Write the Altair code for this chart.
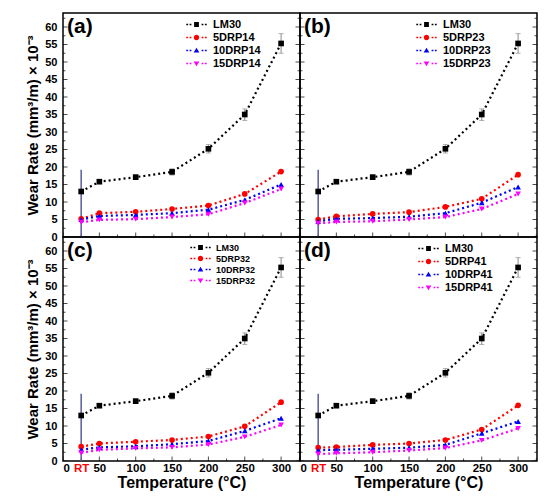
import altair as alt
import pandas as pd

# ---------------- data ----------------
temps = [25, 50, 100, 150, 200, 250, 300]          # RT plotted at 25
x_tick_values = [0, 25, 50, 100, 150, 200, 250, 300]
y_tick_values = [0, 5, 10, 15, 20, 25, 30, 35, 40, 45, 50, 55, 60]
x_major = [0, 50, 100, 150, 200, 250, 300]
x_minor = [25, 75, 125, 175, 225, 275, 325]
y_minor = [2.5, 7.5, 12.5, 17.5, 22.5, 27.5, 32.5, 37.5, 42.5, 47.5, 52.5, 57.5, 62.5]

lm30 = [13.0, 15.8, 17.1, 18.6, 25.2, 35.0, 55.3]
lm30_lo = [0.0, 15.3, 16.5, 17.7, 24.0, 33.3, 52.5]
lm30_hi = [19.2, 16.3, 17.7, 19.5, 26.4, 36.6, 58.1]

drp5_14 = [5.2, 6.8, 7.2, 8.0, 9.0, 12.3, 18.7]
drp10_14 = [5.0, 6.0, 6.3, 6.8, 7.8, 10.6, 15.0]
drp15_14 = [4.2, 4.9, 5.1, 5.7, 6.5, 9.7, 13.7]

drp5_23 = [5.0, 5.9, 6.6, 7.1, 8.6, 10.9, 17.8]
drp10_23 = [4.5, 5.2, 5.4, 5.8, 6.8, 9.8, 14.3]
drp15_23 = [3.9, 4.3, 4.5, 5.0, 5.7, 8.0, 12.3]

drp5_32 = [4.1, 5.0, 5.5, 6.0, 7.0, 9.9, 16.8]
drp10_32 = [3.2, 3.9, 4.2, 4.8, 5.7, 8.6, 12.2]
drp15_32 = [2.3, 3.2, 3.6, 3.9, 4.7, 6.9, 10.3]

drp5_41 = [3.8, 4.0, 4.6, 5.0, 6.0, 9.0, 15.9]
drp10_41 = [3.1, 3.2, 3.5, 3.8, 4.6, 7.9, 11.3]
drp15_41 = [2.0, 2.2, 2.5, 3.0, 3.7, 5.9, 9.3]

series_colors = ["#000000", "#ff0000", "#0000ff", "#ff00ff"]
marker_shapes = ["square", "circle", "triangle-up", "triangle-down"]
dashes = "M-3.4,-0.22H-2.8V0.22H-3.4Z M-2.3,-0.22H-1.7V0.22H-2.3Z M1.7,-0.22H2.3V0.22H1.7Z M2.8,-0.22H3.4V0.22H2.8Z"
legend_paths = [
    dashes + " M-0.8,-0.8H0.8V0.8H-0.8Z",
    dashes + " M0.9,0A0.9,0.9 0 1,1 -0.9,0A0.9,0.9 0 1,1 0.9,0Z",
    dashes + " M0,-0.95L0.95,0.7L-0.95,0.7Z",
    dashes + " M0,0.95L0.95,-0.7L-0.95,-0.7Z",
]

FONT = "Liberation Sans"
W = 237
H = 224
Y_TITLE = "Wear Rate (mm³/m) × 10⁻³"
X_TITLE = "Temperature (°C)"


def panel(tag, code, s5, s10, s15, top, left, lx, ly, lfont):
    names = ["LM30", f"5DRP{code}", f"10DRP{code}", f"15DRP{code}"]
    rows = []
    for name, vals in zip(names, [lm30, s5, s10, s15]):
        for t, v in zip(temps, vals):
            rows.append({"series": name, "temp": t, "rate": v})
    df = pd.DataFrame(rows)
    err = pd.DataFrame({"temp": temps, "lo": lm30_lo, "hi": lm30_hi})

    xscale = alt.Scale(domain=[0, 326], nice=False, zero=False)
    yscale = alt.Scale(domain=[0, 64], nice=False)
    if top:
        xaxis = None
    else:
        xaxis = alt.Axis(
            values=x_tick_values,
            labelExpr="datum.value == 25 ? 'RT' : datum.label",
            labelColor={"condition": {"test": "datum.value == 25", "value": "#ff0000"}, "value": "#000000"},
            ticks=False, domain=False, grid=False,
            labelFont=FONT, labelFontWeight="bold", labelFontSize=11.5, labelPadding=1,
            title=X_TITLE, titleFont=FONT, titleFontWeight="bold", titleFontSize=16,
            titlePadding=1, titleColor="#000000",
        )
    if left:
        yaxis = alt.Axis(
            values=y_tick_values, ticks=False, domain=False, grid=False,
            labelFont=FONT, labelFontWeight="bold", labelFontSize=11, labelPadding=6,
            labelColor="#000000",
            title=Y_TITLE, titleFont=FONT, titleFontWeight="bold", titleFontSize=15,
            titlePadding=4, titleColor="#000000",
        )
    else:
        yaxis = None

    def X(field):
        return alt.X(field, scale=xscale, axis=xaxis, title=None if xaxis is None else X_TITLE)

    def Y(field):
        return alt.Y(field, scale=yscale, axis=yaxis, title=None if yaxis is None else Y_TITLE)

    cscale = alt.Scale(domain=names, range=series_colors)

    base = alt.Chart(df)
    lines = base.mark_line(strokeDash=[2, 3], strokeWidth=2.2).encode(
        x=X("temp:Q"), y=Y("rate:Q"),
        color=alt.Color("series:N", scale=cscale, legend=None),
        detail="series:N",
    )
    points = base.mark_point(filled=True, size=32, opacity=1).encode(
        x=X("temp:Q"), y=Y("rate:Q"),
        color=alt.Color("series:N", scale=cscale, legend=None),
        shape=alt.Shape("series:N", scale=alt.Scale(domain=names, range=marker_shapes), legend=None),
    )
    leg = dict(
        title=None, orient="none", legendX=lx, legendY=ly,
        labelFont=FONT, labelFontWeight="bold", labelFontSize=lfont,
        labelColor="#000000", symbolSize=36, labelOffset=11, rowPadding=1,
        padding=0, symbolStrokeWidth=0,
    )
    legend_layer = base.transform_filter("false").mark_point(filled=True, opacity=1).encode(
        x=X("temp:Q"), y=Y("rate:Q"),
        color=alt.Color("series:N", scale=cscale, legend=alt.Legend(**leg)),
        shape=alt.Shape("series:N", scale=alt.Scale(domain=names, range=legend_paths),
                        legend=alt.Legend(**leg)),
    )

    err_rest = alt.Chart(err).transform_filter("datum.temp > 25")
    err_rule = err_rest.mark_rule(color="#8c8c8c", strokeWidth=1).encode(
        x=X("temp:Q"), y=Y("lo:Q"), y2="hi:Q",
    )
    err_cap_lo = err_rest.mark_tick(color="#8c8c8c", thickness=1, size=5, orient="horizontal").encode(
        x=X("temp:Q"), y=Y("lo:Q"),
    )
    err_cap_hi = err_rest.mark_tick(color="#8c8c8c", thickness=1, size=5, orient="horizontal").encode(
        x=X("temp:Q"), y=Y("hi:Q"),
    )
    err_rt = alt.Chart(err).transform_filter("datum.temp == 25").mark_rule(
        color="#5a5c9e", strokeWidth=1.5).encode(
        x=X("temp:Q"), y=Y("lo:Q"), y2="hi:Q",
    )

    # inward tick marks (clipped half outside the frame)
    ymaj = pd.DataFrame({"v": y_tick_values})
    ymin = pd.DataFrame({"v": y_minor})
    xmaj = pd.DataFrame({"v": x_major})
    xmin = pd.DataFrame({"v": x_minor})
    tick_layers = []
    for d, size in [(ymaj, 9), (ymin, 5)]:
        for xpos in [0, W]:
            tick_layers.append(
                alt.Chart(d).mark_tick(clip=True, color="#000000", thickness=1, size=size, orient="horizontal").encode(
                    y=Y("v:Q"), x=alt.value(xpos))
            )
    for d, size in [(xmaj, 9), (xmin, 5)]:
        tick_layers.append(
            alt.Chart(d).mark_tick(clip=True, color="#000000", thickness=1, size=size, orient="vertical").encode(
                x=X("v:Q"), y=alt.value(H))
        )

    label = alt.Chart(pd.DataFrame({"tag": [tag]})).mark_text(
        font=FONT, fontWeight="bold", fontSize=21, align="left", baseline="middle", color="#000000"
    ).encode(text="tag:N", x=alt.value(4), y=alt.value(14))

    layered = alt.layer(
        lines, *tick_layers, err_rt, err_rule, err_cap_lo, err_cap_hi, points, legend_layer, label
    ).resolve_scale(color="independent", shape="independent").properties(width=W, height=H)
    return layered


pa = panel("(a)", "14", drp5_14, drp10_14, drp15_14, True, True, 128, 6, 11)
pb = panel("(b)", "23", drp5_23, drp10_23, drp15_23, True, False, 121, 6, 11)
pc = panel("(c)", "32", drp5_32, drp10_32, drp15_32, False, True, 133, 6, 9)
pd_ = panel("(d)", "41", drp5_41, drp10_41, drp15_41, False, False, 123, 6, 11)

chart = alt.concat(pa, pb, pc, pd_, columns=2, spacing=0, bounds="flush").resolve_scale(
    color="independent", shape="independent"
).properties(
    padding={"left": 17, "top": 4, "right": 2, "bottom": 2},
    background="#ffffff",
).configure_view(stroke="#000000", strokeWidth=1.5).configure_concat(spacing=0)

chart.save("out.html", embed_options={"renderer": "svg", "actions": False})
